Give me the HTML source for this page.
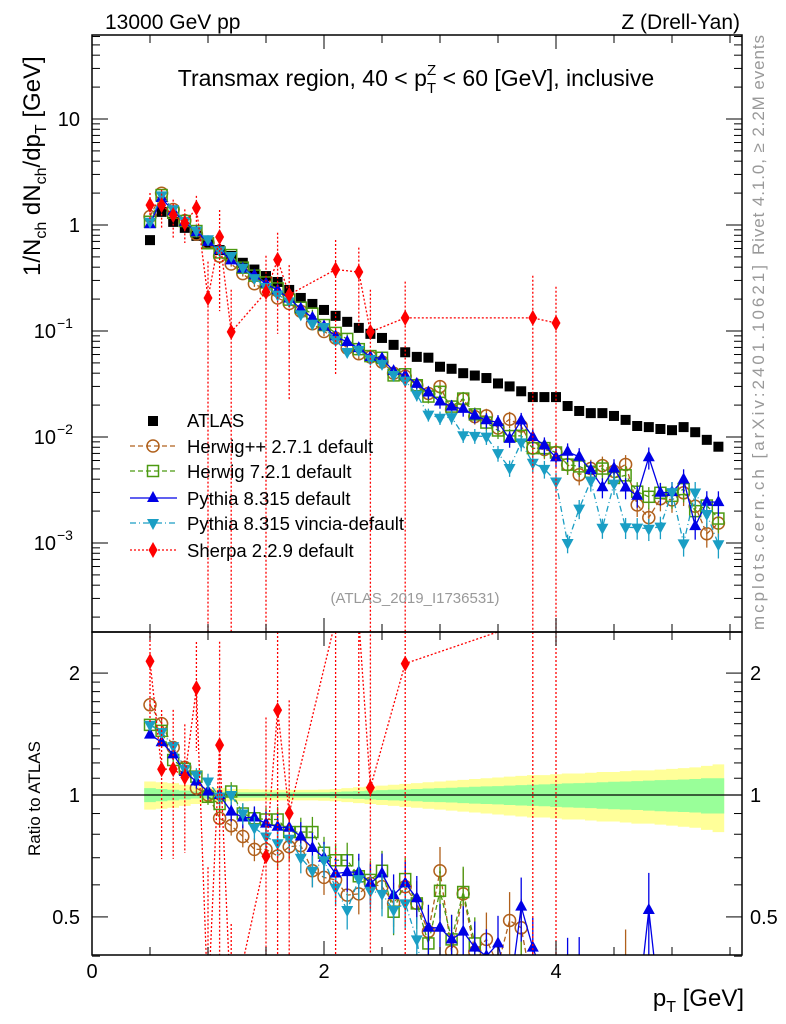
<!DOCTYPE html>
<html><head><meta charset="utf-8">
<style>
html,body{margin:0;padding:0;background:#fff;width:786px;height:1024px;overflow:hidden;}
svg{display:block;font-family:"Liberation Sans",sans-serif;}
</style></head>
<body>
<svg id="chart" width="786" height="1024" viewBox="0 0 786 1024" xmlns="http://www.w3.org/2000/svg" overflow="hidden">
<defs>
<clipPath id="clipMain"><rect x="92" y="35" width="650" height="597"/></clipPath>
<clipPath id="clipRatio"><rect x="92" y="632" width="650" height="323"/></clipPath>
</defs>
<rect x="0" y="0" width="786" height="1024" fill="#fff"/>
<g id="bands" clip-path="url(#clipRatio)"></g>
<g id="mainMarks" clip-path="url(#clipMain)"></g>
<g id="ratioMarks" clip-path="url(#clipRatio)"></g>
<g id="axes"></g>
<text x="105" y="29" font-size="21">13000 GeV pp</text>
<text x="740" y="29" font-size="21" text-anchor="end">Z (Drell-Yan)</text>
<text x="416" y="86" font-size="23" text-anchor="middle">Transmax region, 40 &lt; p<tspan font-size="15" dy="7">T</tspan><tspan font-size="15" dx="-9" dy="-18">Z</tspan><tspan dy="11"> &lt; 60 [GeV], inclusive</tspan></text>
<text transform="translate(40,276) rotate(-90)" font-size="24">1/N<tspan font-size="16" dy="6">ch</tspan><tspan dy="-6"> dN</tspan><tspan font-size="16" dy="6">ch</tspan><tspan dy="-6">/dp</tspan><tspan font-size="16" dy="6">T</tspan><tspan dy="-6"> [GeV]</tspan></text>
<text transform="translate(40,856) rotate(-90)" font-size="17">Ratio to ATLAS</text>
<text transform="translate(764,255) rotate(-90)" font-size="17" fill="#999" textLength="220" lengthAdjust="spacing">Rivet 4.1.0, ≥ 2.2M events</text>
<text transform="translate(764,630) rotate(-90)" font-size="17" fill="#999" textLength="365" lengthAdjust="spacing">mcplots.cern.ch [arXiv:2401.10621]</text>
<text x="415" y="603" font-size="15" fill="#999" text-anchor="middle">(ATLAS_2019_I1736531)</text>
<text x="744" y="1006" font-size="24" text-anchor="end">p<tspan font-size="16" dy="6">T</tspan><tspan dy="-6"> [GeV]</tspan></text>
<g id="legend"></g>
</svg>
<script>
const pts = [0.5,0.6,0.7,0.8,0.9,1.0,1.1,1.2,1.3,1.4,1.5,1.6,1.7,1.8,1.9,2.0,2.1,2.2,2.3,2.4,2.5,2.6,2.7,2.8,2.9,3.0,3.1,3.2,3.3,3.4,3.5,3.6,3.7,3.8,3.9,4.0,4.1,4.2,4.3,4.4,4.5,4.6,4.7,4.8,4.9,5.0,5.1,5.2,5.3,5.4];
const atlas = [0.72,1.33,1.07,0.94,0.79,0.68,0.58,0.51,0.44,0.38,0.33,0.29,0.244,0.205,0.18,0.158,0.139,0.122,0.107,0.094,0.086,0.074,0.063,0.057,0.056,0.046,0.044,0.040,0.038,0.036,0.032,0.030,0.027,0.0238,0.0238,0.0238,0.0196,0.0176,0.0168,0.0168,0.0158,0.0145,0.0127,0.0124,0.0119,0.0116,0.0124,0.0111,0.0094,0.0081];
const bandGreen = [0.04,0.035,0.03,0.025,0.02,0.02,0.018,0.015,0.015,0.015,0.015,0.015,0.015,0.015,0.015,0.015,0.018,0.02,0.022,0.025,0.028,0.03,0.032,0.035,0.038,0.04,0.042,0.045,0.048,0.05,0.052,0.055,0.058,0.06,0.062,0.065,0.068,0.07,0.072,0.075,0.078,0.08,0.082,0.085,0.088,0.09,0.092,0.095,0.1,0.1];
const bandYellow = [0.08,0.075,0.07,0.06,0.05,0.045,0.04,0.035,0.035,0.033,0.032,0.03,0.03,0.03,0.03,0.032,0.035,0.04,0.045,0.05,0.055,0.06,0.065,0.07,0.075,0.08,0.085,0.09,0.095,0.1,0.105,0.11,0.115,0.12,0.12,0.125,0.13,0.13,0.135,0.14,0.14,0.145,0.15,0.15,0.155,0.16,0.165,0.17,0.18,0.19];
const herwigpp = [1.67,1.50,1.31,1.17,1.04,1.0,0.876,0.84,0.79,0.734,0.734,0.707,0.745,0.75,0.65,0.626,0.617,0.566,0.57,0.605,0.594,0.54,0.594,0.54,0.46,0.65,0.41,0.57,0.41,0.44,0.38,0.49,0.47,0.33,0.32,0.30,0.28,0.25,0.30,0.32,0.30,0.38,0.18,0.14,0.22,0.22,0.24,0.2,0.13,0.19];
const herwig7 = [1.49,1.44,1.22,1.16,1.11,0.99,0.95,1.02,0.90,0.876,0.87,0.87,0.81,0.81,0.81,0.72,0.69,0.69,0.63,0.617,0.65,0.515,0.62,0.54,0.43,0.58,0.44,0.576,0.43,0.38,0.36,0.34,0.38,0.33,0.33,0.30,0.28,0.30,0.28,0.30,0.26,0.30,0.24,0.22,0.25,0.24,0.26,0.18,0.24,0.21];
const pythia = [1.41,1.35,1.26,1.14,1.08,1.02,1.0,0.91,0.88,0.88,0.85,0.835,0.83,0.79,0.74,0.70,0.64,0.645,0.645,0.605,0.64,0.566,0.605,0.556,0.47,0.47,0.44,0.46,0.42,0.40,0.43,0.32,0.53,0.42,0.35,0.27,0.37,0.37,0.29,0.20,0.32,0.23,0.22,0.52,0.25,0.26,0.32,0.13,0.26,0.30];
const vincia = [1.49,1.43,1.32,1.16,1.12,1.08,0.99,1.0,0.9,0.83,0.79,0.76,0.78,0.70,0.65,0.69,0.59,0.52,0.62,0.58,0.57,0.52,0.54,0.44,0.29,0.33,0.35,0.26,0.27,0.28,0.22,0.17,0.33,0.24,0.21,0.16,0.051,0.12,0.23,0.083,0.23,0.097,0.11,0.11,0.12,0.26,0.08,0.27,0.2,0.12];
const sherpaX = [0.5,0.6,0.7,0.8,0.9,1.0,1.1,1.2,1.5,1.6,1.7,2.1,2.3,2.4,2.7,3.8,4.0];
const sherpaY = [1.54,1.54,1.24,1.04,1.45,0.205,0.77,0.098,0.233,0.47,0.22,0.38,0.36,0.098,0.133,0.133,0.119];
const sherpaErr = [0.3,0.4,0.4,0.35,0.3,1.2,0.8,1.5,1.2,0.8,0.9,0.9,0.7,1.5,1.2,1.5,1.2];
const xTicks = [0,2,4];
const yTicks = [10,1,0.1,0.01,0.001];
const yTickLabels = ["10","1","10","10","10"];
const yTickExp = ["","","−1","−2","−3"];
const rTicks = [2,1,0.5];
const rTickLabels = ["2","1","0.5"];

const NS="http://www.w3.org/2000/svg";
const X0=92,X1=742,YT=35,YM=632,YB=955;
function xs(v){return X0+116*v;}
function ym(v){return 225-106*Math.log10(v);}
function yr(r){return 795-405*Math.log10(r);}
function yrc(r){return Math.max(620,Math.min(1015,yr(r)));}
function inR(r){const y=yr(r);return y>620&&y<970;}
function mk(tag,attrs,parent){const e=document.createElementNS(NS,tag);for(const k in attrs)e.setAttribute(k,attrs[k]);parent.appendChild(e);return e;}
const mainG=document.getElementById('mainMarks'),ratioG=document.getElementById('ratioMarks'),bandG=document.getElementById('bands'),axG=document.getElementById('axes'),legG=document.getElementById('legend');

function bandPath(arr){let top='',bot='';for(let i=0;i<pts.length;i++){const a=xs(pts[i]-0.05),b=xs(pts[i]+0.05);top+=(i?'L':'M')+a+','+yr(1+arr[i])+'L'+b+','+yr(1+arr[i]);}for(let i=pts.length-1;i>=0;i--){const a=xs(pts[i]-0.05),b=xs(pts[i]+0.05);bot+='L'+b+','+yr(1-arr[i])+'L'+a+','+yr(1-arr[i]);}return top+bot+'Z';}
let e;
e=mk('path',{d:bandPath(bandYellow),fill:'#ffff99'},bandG);


e=mk('path',{d:bandPath(bandGreen),fill:'#99ff99'},bandG);


e=mk('line',{x1:X0,x2:X1,y1:yr(1),y2:yr(1),stroke:'#000','stroke-width':1.2},ratioG);



function marker(g,type,x,y,color){
  let m;
  if(type==='sq')m=mk('rect',{x:x-5,y:y-5,width:10,height:10,fill:'#000'},g);
  else if(type==='osq')m=mk('rect',{x:x-5.5,y:y-5.5,width:11,height:11,fill:'none',stroke:color,'stroke-width':1.5},g);
  else if(type==='circ')m=mk('circle',{cx:x,cy:y,r:6,fill:'none',stroke:color,'stroke-width':1.5},g);
  else if(type==='tri')m=mk('path',{d:`M${x},${y-7}L${x+6},${y+4}L${x-6},${y+4}Z`,fill:color},g);
  else if(type==='itri')m=mk('path',{d:`M${x},${y+7}L${x+6},${y-4}L${x-6},${y-4}Z`,fill:color},g);
  else if(type==='dia')m=mk('path',{d:`M${x},${y-8}L${x+4.5},${y}L${x},${y+8}L${x-4.5},${y}Z`,fill:color},g);
  return m;
}
const series=[
 {name:'herwigpp',data:herwigpp,color:'#b0601c',type:'circ',dash:'5,3'},
 {name:'herwig7',data:herwig7,color:'#4c9a10',type:'osq',dash:'5,3'},
 {name:'pythia',data:pythia,color:'#0000e6',type:'tri',dash:''},
 {name:'vincia',data:vincia,color:'#1a9ec4',type:'itri',dash:'6,3,1,3'}
];
for(let i=0;i<pts.length;i++){
  const m=marker(mainG,'sq',xs(pts[i]),ym(atlas[i]),'#000');
  
  
}
series.forEach(s=>{
  let dm='',dr='';
  for(let i=0;i<pts.length;i++){
    const x=xs(pts[i]);const v=atlas[i]*s.data[i];
    dm+=(i?'L':'M')+x+','+ym(v);dr+=(i?'L':'M')+x+','+yrc(s.data[i]);
  }
  let l=mk('path',{d:dm,fill:'none',stroke:s.color,'stroke-width':1.3,'stroke-dasharray':s.dash},mainG);
  
  
  l=mk('path',{d:dr,fill:'none',stroke:s.color,'stroke-width':1.3,'stroke-dasharray':s.dash},ratioG);
  
  
  for(let i=0;i<pts.length;i++){
    const x=xs(pts[i]);const v=atlas[i]*s.data[i];
    const rel=Math.min(0.02+0.05*(pts[i]-0.5),0.3);
    let eb=mk('line',{x1:x,x2:x,y1:ym(v*(1+rel)),y2:ym(v*(1-rel)),stroke:s.color,'stroke-width':1.3},mainG);
    
    
    let m=marker(mainG,s.type,x,ym(v),s.color);
    
    
    if(inR(s.data[i])){
      eb=mk('line',{x1:x,x2:x,y1:yrc(s.data[i]*(1+rel)),y2:yrc(s.data[i]*(1-rel)),stroke:s.color,'stroke-width':1.3},ratioG);
      
      
      m=marker(ratioG,s.type,x,yr(s.data[i]),s.color);
      
      
    }
  }
});
(function(){
  let dm='',dr='';
  const rat=sherpaX.map((x,i)=>sherpaY[i]/atlas[Math.round((x-0.5)*10)]);
  sherpaX.forEach((x,i)=>{dm+=(i?'L':'M')+xs(x)+','+ym(sherpaY[i]);dr+=(i?'L':'M')+xs(x)+','+yrc(rat[i]);});
  let l=mk('path',{d:dm,fill:'none',stroke:'#f00','stroke-width':1.3,'stroke-dasharray':'2,2'},mainG);
  
  
  l=mk('path',{d:dr,fill:'none',stroke:'#f00','stroke-width':1.3,'stroke-dasharray':'2,2'},ratioG);
  
  
  sherpaX.forEach((xv,i)=>{
    const x=xs(xv),v=sherpaY[i],f=sherpaErr[i];
    const lo=v*(1-f)>0?v*(1-f):1e-5, loR=rat[i]*(1-f)>0?rat[i]*(1-f):0.2;
    let eb=mk('line',{x1:x,x2:x,y1:ym(v*(1+f)),y2:Math.min(ym(lo),640),stroke:'#f00','stroke-width':1.3,'stroke-dasharray':'2,2'},mainG);
    
    
    eb=mk('line',{x1:x,x2:x,y1:yrc(rat[i]*(1+f)),y2:Math.min(yr(loR),965),stroke:'#f00','stroke-width':1.3,'stroke-dasharray':'2,2'},ratioG);
    
    
    let m=marker(mainG,'dia',x,ym(v),'#f00');
    
    
    if(inR(rat[i])){
      m=marker(ratioG,'dia',x,yr(rat[i]),'#f00');
      
      
    }
  });
})();

e=mk('rect',{x:X0,y:YT,width:X1-X0,height:YM-YT,fill:'none',stroke:'#000','stroke-width':1.5},axG);


e=mk('rect',{x:X0,y:YM,width:X1-X0,height:YB-YM,fill:'none',stroke:'#000','stroke-width':1.5},axG);


for(let v=0;v<=5.6;v+=0.5){
  const x=xs(v),maj=Math.abs(v-Math.round(v/2)*2)<1e-6,len=maj?14:8;
  [[YT,1],[YM,-1],[YM,1],[YB,-1]].forEach(([y,d])=>{
    const t=mk('line',{x1:x,x2:x,y1:y,y2:y+d*len,stroke:'#000','stroke-width':1},axG);
    
    
  });
}
xTicks.forEach(v=>{
  const t=mk('text',{x:xs(v),y:978,'font-size':20,'text-anchor':'middle'},axG);t.textContent=String(v);
  
  
});
for(let d=-4;d<=1;d++){for(let k=1;k<=9;k++){
  const v=k*Math.pow(10,d),y=ym(v);if(y<YT||y>YM)continue;const len=k===1?16:8;
  [[X0,1],[X1,-1]].forEach(([x,s])=>{
    const t=mk('line',{x1:x,x2:x+s*len,y1:y,y2:y,stroke:'#000','stroke-width':1},axG);
    
    
  });
}}
yTicks.forEach((v,i)=>{
  const t=mk('text',{x:yTickExp[i]?56:80,y:ym(v)+7,'font-size':20,'text-anchor':'end'},axG);t.textContent=yTickLabels[i];
  
  
  if(yTickExp[i]){const s=mk('text',{x:57,y:ym(v)-3,'font-size':14},axG);s.textContent=yTickExp[i];
    
    }
});
[0.4,0.5,0.6,0.7,0.8,0.9,1,2].concat([1.1,1.2,1.3,1.4,1.5,1.6,1.7,1.8,1.9]).forEach(v=>{
  const y=yr(v),len=(v===1||v===2||v===0.5)?16:8;
  [[X0,1],[X1,-1]].forEach(([x,s])=>{
    const t=mk('line',{x1:x,x2:x+s*len,y1:y,y2:y,stroke:'#000','stroke-width':1},axG);
    
    
  });
});
rTicks.forEach((v,i)=>{
  [[80,'end'],[750,'start']].forEach(([x,a])=>{
    const t=mk('text',{x:x,y:yr(v)+7,'font-size':20,'text-anchor':a},axG);t.textContent=rTickLabels[i];
    
    
  });
});
const legNames=['Herwig++ 2.7.1 default','Herwig 7.2.1 default','Pythia 8.315 default','Pythia 8.315 vincia-default','Sherpa 2.2.9 default'];
const legY=[453,478,505,530,557];
let lt=mk('rect',{x:148,y:416,width:10,height:10,fill:'#000'},legG);


lt=mk('text',{x:187,y:427,'font-size':18.5},legG);lt.textContent='ATLAS';


const legSeries=series.concat([{name:'sherpa',color:'#f00',type:'dia',dash:'2,2'}]);
legSeries.forEach((s,i)=>{
  const y=legY[i]-7;
  let l=mk('line',{x1:130,x2:177,y1:y,y2:y,stroke:s.color,'stroke-width':1.3,'stroke-dasharray':s.dash},legG);
  
  
  const m=marker(legG,s.type,153,y,s.color);
  
  
  const t=mk('text',{x:187,y:legY[i],'font-size':18.5},legG);t.textContent=legNames[i];
  
  
});
</script>
</body></html>
